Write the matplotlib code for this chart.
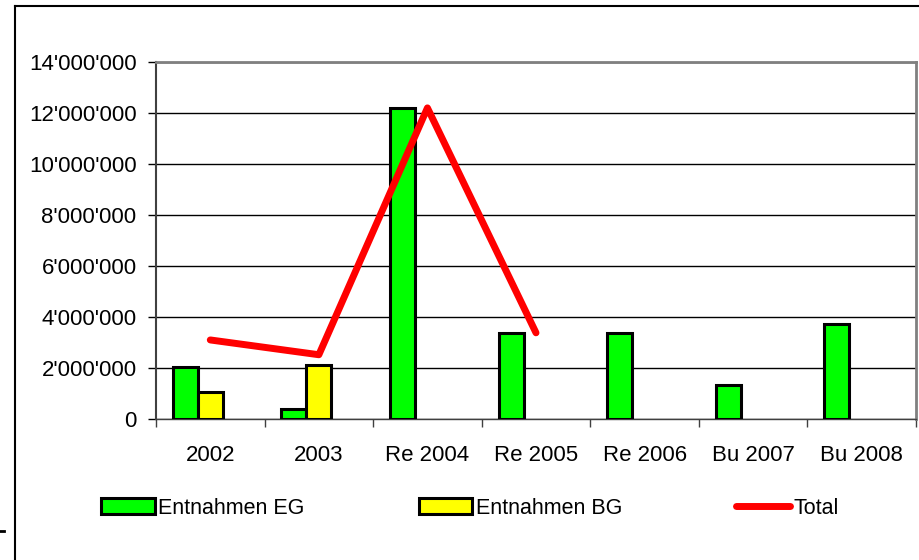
import numpy as np
import matplotlib.pyplot as plt
from matplotlib.ticker import FuncFormatter, MultipleLocator
from matplotlib.lines import Line2D
from matplotlib.patches import Patch

categories = ['2002', '2003', 'Re 2004', 'Re 2005', 'Re 2006', 'Bu 2007', 'Bu 2008']
entnahmen_eg = [2050000, 390000, 12200000, 3380000, 3360000, 1330000, 3730000]
entnahmen_bg = [1050000, 2130000, 0, 0, 0, 0, 0]
total = [3100000, 2520000, 12200000, 3380000, np.nan, np.nan, np.nan]

plt.rcParams['font.family'] = ['Liberation Sans', 'DejaVu Sans']

fig = plt.figure(figsize=(9.2, 5.6), dpi=100)
ax = fig.add_axes([156/920, 141/560, 760/920, 357/560])

x = np.arange(len(categories)) + 0.5
w = 0.23  # three slots per category, third one empty
ax.bar(x - w, entnahmen_eg, width=w, color='#00ff00', edgecolor='black', linewidth=2.2, zorder=3)
bg = np.array(entnahmen_bg, dtype=float)
bg[bg == 0] = np.nan
ax.bar(x, bg, width=w, color='#ffff00', edgecolor='black', linewidth=2.2, zorder=3)
ax.plot(x, total, color='#ff0000', linewidth=5, solid_capstyle='round', zorder=4)

ax.set_xlim(0, len(categories))
ax.set_ylim(0, 14000000)
ax.yaxis.set_major_locator(MultipleLocator(2000000))
ax.yaxis.set_major_formatter(FuncFormatter(lambda v, p: f"{int(v):,}".replace(',', "'")))
ax.grid(axis='y', color='black', linewidth=1, zorder=1)

ax.set_xticks(np.arange(len(categories) + 1))
ax.set_xticklabels([])
ax.set_xticks(x, minor=True)
ax.set_xticklabels(categories, minor=True)
ax.tick_params(axis='x', which='major', length=6, width=1, direction='out', color='#404040')
ax.tick_params(axis='x', which='minor', length=0, pad=19, labelsize=16)
ax.tick_params(axis='y', length=6, width=1, direction='out', labelsize=16, pad=8)

for s in ['top', 'right']:
    ax.spines[s].set_color('#808080')
    ax.spines[s].set_linewidth(2)
ax.spines['left'].set_color('#404040')
ax.spines['left'].set_linewidth(1.5)
ax.spines['bottom'].set_color('#404040')
ax.spines['bottom'].set_linewidth(1)

handles = [
    Patch(facecolor='#00ff00', edgecolor='black', linewidth=2.2),
    Patch(facecolor='#ffff00', edgecolor='black', linewidth=2.2),
    Line2D([0], [0], color='#ff0000', linewidth=5, solid_capstyle='round'),
]
fig.legend(handles, ['Entnahmen EG', 'Entnahmen BG', 'Total'], loc='center left',
           bbox_to_anchor=(101/920, 1 - 508/560), ncol=3, frameon=False, fontsize=15.5,
           handlelength=2.5, handletextpad=0.15, columnspacing=5.3,
           borderpad=0, borderaxespad=0)

# outer chart border
fig.add_artist(Line2D([15/920, 15/920], [0, 1 - 6/560], color='black', linewidth=1.5))
fig.add_artist(Line2D([15/920, 1], [1 - 6/560, 1 - 6/560], color='black', linewidth=1.5))
fig.add_artist(Line2D([0, 4/920], [1 - 531/560, 1 - 531/560], color='black', linewidth=2))

fig.savefig('out.png', dpi=100)
